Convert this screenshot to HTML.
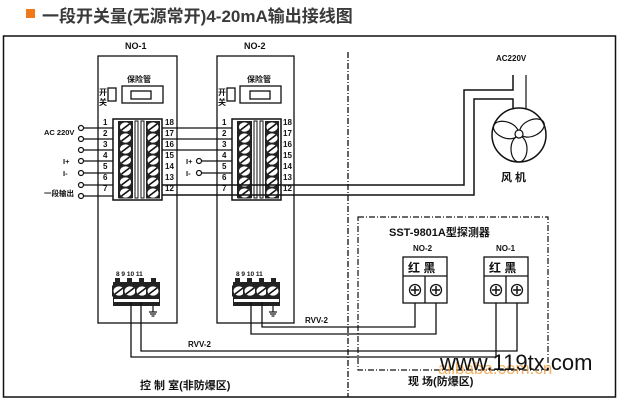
<!DOCTYPE html>
<html><head><meta charset="utf-8"><style>
html,body{margin:0;padding:0;background:#fff}
svg{display:block}
text{font-family:"Liberation Sans","Noto Sans CJK SC",sans-serif;font-weight:bold;fill:#111}
</style></head><body>
<svg width="620" height="400" viewBox="0 0 620 400" xmlns="http://www.w3.org/2000/svg">
<defs>
 <g id="scr"><rect x="-7" y="-5.5" width="14" height="11" fill="#222"/><ellipse cx="0" cy="0" rx="5.5" ry="4.6" fill="#fff"/><line x1="-4" y1="3" x2="4" y2="-3" stroke="#111" stroke-width="1.6"/></g>
 <g id="blk">
  <rect x="0" y="0" width="49" height="81" fill="#fff" stroke="#111" stroke-width="1.5"/>
  <rect x="5" y="2" width="15" height="77" fill="#222"/>
  <rect x="33" y="2" width="14" height="77" fill="#222"/>
  <rect x="22" y="2" width="3" height="77" fill="#fff" stroke="#111"/>
  <rect x="28" y="2" width="3" height="77" fill="#fff" stroke="#111"/>
  <use href="#scr" x="12.5" y="8"/><use href="#scr" x="12.5" y="19"/><use href="#scr" x="12.5" y="30"/><use href="#scr" x="12.5" y="41"/><use href="#scr" x="12.5" y="52"/><use href="#scr" x="12.5" y="63"/><use href="#scr" x="12.5" y="74"/>
  <use href="#scr" x="40" y="8"/><use href="#scr" x="40" y="19"/><use href="#scr" x="40" y="30"/><use href="#scr" x="40" y="41"/><use href="#scr" x="40" y="52"/><use href="#scr" x="40" y="63"/><use href="#scr" x="40" y="74"/>
 </g>
 <g id="bot">
  <rect x="0" y="0" width="47" height="24" fill="#222"/>
  <rect x="2" y="-4" width="5" height="4" fill="#222"/><rect x="14" y="-4" width="5" height="4" fill="#222"/><rect x="26" y="-4" width="5" height="4" fill="#222"/><rect x="38" y="-4" width="5" height="4" fill="#222"/>
  <use href="#scr" x="6" y="9"/><use href="#scr" x="17" y="9"/><use href="#scr" x="29" y="9"/><use href="#scr" x="40" y="9"/>
  <rect x="1" y="17" width="45" height="3" fill="#fff"/>
 </g>
 <g id="gnd" stroke="#111" stroke-width="1.2"><line x1="0" y1="0" x2="0" y2="6"/><line x1="-4" y1="6" x2="4" y2="6"/><line x1="-3" y1="8" x2="3" y2="8"/><line x1="-1.5" y1="10" x2="1.5" y2="10"/></g>
</defs>

<rect x="26" y="9" width="9" height="9" fill="#f07a1a"/>
<text x="42" y="22" font-size="17" fill="#444" style="fill:#3a3a3a">一段开关量(无源常开)4-20mA输出接线图</text>

<rect x="3.5" y="36" width="612" height="361" fill="none" stroke="#111" stroke-width="1.5"/>
<line x1="348" y1="52" x2="348" y2="397" stroke="#111" stroke-width="1.3" stroke-dasharray="6,2,1,2"/>

<!-- modules -->
<rect x="98" y="56" width="79" height="267" fill="none" stroke="#111" stroke-width="1.3"/>
<rect x="217" y="56" width="77" height="267" fill="none" stroke="#111" stroke-width="1.3"/>
<text x="125" y="49" font-size="9">NO-1</text>
<text x="244" y="49" font-size="9">NO-2</text>

<g font-size="8">
<text x="127" y="82">保险管</text><text x="247" y="82">保险管</text>
<text x="99" y="95">开</text><text x="99" y="105">关</text>
<text x="218" y="95">开</text><text x="218" y="105">关</text>
</g>
<g fill="none" stroke="#111" stroke-width="1.3">
<rect x="108" y="88" width="8" height="13"/><rect x="122" y="86" width="41" height="17"/><rect x="131" y="91" width="20" height="8"/>
<rect x="227" y="88" width="8" height="13"/><rect x="240" y="86" width="41" height="17"/><rect x="250" y="91" width="20" height="8"/>
</g>

<use href="#blk" x="113" y="119"/>
<use href="#blk" x="232" y="119"/>

<g font-size="8">
<text x="103" y="125">1</text><text x="103" y="136">2</text><text x="103" y="147">3</text><text x="103" y="158">4</text><text x="103" y="169">5</text><text x="103" y="180">6</text><text x="103" y="191">7</text>
<text x="165" y="125">18</text><text x="165" y="136">17</text><text x="165" y="147">16</text><text x="165" y="158">15</text><text x="165" y="169">14</text><text x="165" y="180">13</text><text x="165" y="191">12</text>
<text x="222" y="125">1</text><text x="222" y="136">2</text><text x="222" y="147">3</text><text x="222" y="158">4</text><text x="222" y="169">5</text><text x="222" y="180">6</text><text x="222" y="191">7</text>
<text x="283" y="125">18</text><text x="283" y="136">17</text><text x="283" y="147">16</text><text x="283" y="158">15</text><text x="283" y="169">14</text><text x="283" y="180">13</text><text x="283" y="191">12</text>
</g>

<g stroke="#111" stroke-width="1.2" fill="none">
<!-- NO-1 left inputs -->
<line x1="84" y1="128" x2="113" y2="128"/><line x1="84" y1="139" x2="113" y2="139"/>
<line x1="84" y1="150" x2="113" y2="150"/><line x1="84" y1="161" x2="113" y2="161"/>
<line x1="84" y1="173" x2="113" y2="173"/><line x1="84" y1="185" x2="113" y2="185"/><line x1="84" y1="196" x2="113" y2="196"/>
<circle cx="81" cy="128" r="2.5" fill="#fff"/><circle cx="81" cy="139" r="2.5" fill="#fff"/><circle cx="81" cy="150" r="2.5" fill="#fff"/>
<circle cx="81" cy="161" r="2.5" fill="#fff"/><circle cx="81" cy="173" r="2.5" fill="#fff"/><circle cx="81" cy="185" r="2.5" fill="#fff"/><circle cx="81" cy="196" r="2.5" fill="#fff"/>
<!-- NO-2 inputs -->
<line x1="202" y1="161" x2="232" y2="161"/><line x1="202" y1="173" x2="232" y2="173"/>
<circle cx="199" cy="161" r="2.5" fill="#fff"/><circle cx="199" cy="173" r="2.5" fill="#fff"/>
<!-- NO-1 to NO-2 -->
<line x1="162" y1="128" x2="232" y2="128"/><line x1="162" y1="139" x2="232" y2="139"/><line x1="162" y1="150" x2="232" y2="150"/>
<!-- to fan -->
<polyline points="162,185 464,185 464,90 513,90 513,75" stroke-width="1.5"/>
<polyline points="162,195 474,195 474,99 513,99 513,108" stroke-width="1.5"/>
<line x1="526" y1="75" x2="526" y2="109"/>
<!-- fan -->
<circle cx="519" cy="135" r="27" stroke-width="1.5"/>
<ellipse cx="506" cy="130" rx="13" ry="8" transform="rotate(20 506 130)"/>
<ellipse cx="532" cy="128" rx="13" ry="8" transform="rotate(-25 532 128)"/>
<ellipse cx="519" cy="149" rx="8" ry="13"/>
<circle cx="519" cy="134" r="4" fill="#fff"/>
</g>
<text x="496" y="61" font-size="8">AC220V</text>
<text x="501" y="181" font-size="11">风  机</text>

<g font-size="7.5">
<text x="44" y="135">AC 220V</text>
<text x="63" y="164">I+</text><text x="63" y="176">I-</text>
<text x="44" y="196">一段输出</text>
<text x="186" y="164">I+</text><text x="186" y="176">I-</text>
</g>

<!-- bottom terminals -->
<g font-size="6.5"><text x="116" y="276">8 9 10 11</text><text x="236" y="276">8 9 10 11</text></g>
<use href="#bot" x="113" y="282"/><use href="#bot" x="233" y="282"/>
<use href="#gnd" x="153" y="306"/><use href="#gnd" x="273" y="306"/>

<g stroke="#111" stroke-width="1.3" fill="none">
<polyline points="131,302 131,357 496,357 496,296"/>
<polyline points="141,302 141,351 517,351 517,296"/>
<polyline points="251,302 251,334 436,334 436,296"/>
<polyline points="262,302 262,327 415,327 415,296"/>
</g>
<text x="305" y="323" font-size="8">RVV-2</text>
<text x="188" y="347" font-size="8">RVV-2</text>

<!-- detector -->
<rect x="358" y="217" width="190" height="153" fill="none" stroke="#111" stroke-width="1.2" stroke-dasharray="6,2,1,2"/>
<text x="389" y="236" font-size="11">SST-9801A型探测器</text>
<text x="413" y="251" font-size="8">NO-2</text><text x="496" y="251" font-size="8">NO-1</text>
<g fill="#fff" stroke="#111" stroke-width="1.3">
<rect x="403" y="257" width="44" height="46"/><line x1="403" y1="276" x2="447" y2="276"/><line x1="425" y1="276" x2="425" y2="303"/>
<rect x="484" y="257" width="44" height="46"/><line x1="484" y1="276" x2="528" y2="276"/><line x1="506" y1="276" x2="506" y2="303"/>
<circle cx="415" cy="290" r="5.5"/><circle cx="436" cy="290" r="5.5"/><circle cx="496" cy="290" r="5.5"/><circle cx="517" cy="290" r="5.5"/>
</g>
<g stroke="#111" stroke-width="1.5">
<line x1="411" y1="290" x2="419" y2="290"/><line x1="415" y1="286" x2="415" y2="294"/>
<line x1="432" y1="290" x2="440" y2="290"/><line x1="436" y1="286" x2="436" y2="294"/>
<line x1="492" y1="290" x2="500" y2="290"/><line x1="496" y1="286" x2="496" y2="294"/>
<line x1="513" y1="290" x2="521" y2="290"/><line x1="517" y1="286" x2="517" y2="294"/>
</g>
<text x="408" y="272" font-size="12">红 黑</text><text x="489" y="272" font-size="12">红 黑</text>

<text x="140" y="389" font-size="11">控  制  室(非防爆区)</text>
<text x="408" y="385" font-size="11">现  场(防爆区)</text>

<text x="438" y="374" font-size="17" style="font-weight:normal;fill:#f0a040;opacity:.8">alibaba.com.cn</text>
<text x="440" y="370" font-size="22" style="font-weight:normal;fill:#111">www.119tx.com</text>
</svg>
</body></html>
